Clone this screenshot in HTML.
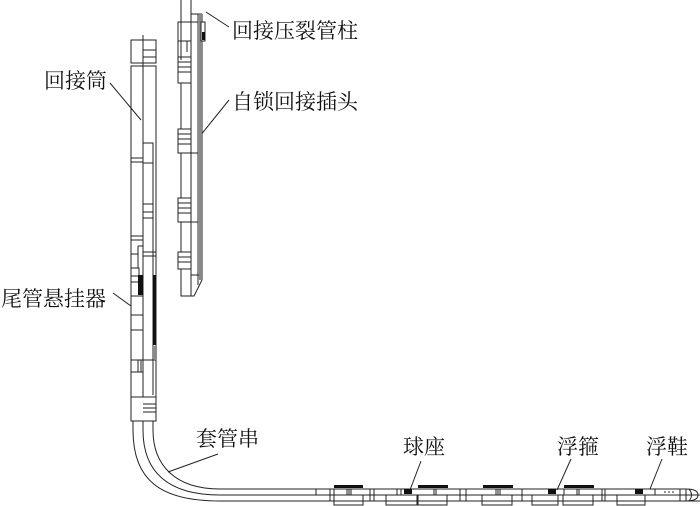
<!DOCTYPE html>
<html><head><meta charset="utf-8"><style>
html,body{margin:0;padding:0;background:#fff}
svg{display:block}
text{font-family:"Liberation Serif","Noto Serif CJK SC","Noto Sans CJK SC",serif;font-size:21px;fill:#111}
</style></head><body>
<svg width="700" height="506" viewBox="0 0 700 506" xmlns="http://www.w3.org/2000/svg">
<g fill="none" stroke="#222" stroke-width="1">
<rect x="131" y="40" width="25" height="23"/>
<line x1="143" y1="35" x2="143" y2="397"/>
<line x1="143" y1="50" x2="156" y2="50"/><line x1="143" y1="57" x2="156" y2="57"/>
<rect x="131" y="66" width="25" height="331"/>
<line x1="131" y1="158" x2="143" y2="158"/><line x1="131" y1="162" x2="143" y2="162"/>
<rect x="143" y="143" width="10" height="20"/>
<line x1="153" y1="143" x2="153" y2="395"/>
<line x1="143" y1="204" x2="153" y2="204"/><line x1="143" y1="212" x2="153" y2="212"/><line x1="143" y1="218" x2="153" y2="218"/>
<line x1="131" y1="236" x2="143" y2="236"/><line x1="131" y1="240" x2="143" y2="240"/>
<rect x="131" y="254" width="7" height="14"/><rect x="131" y="268" width="8" height="8"/>
<line x1="138" y1="254" x2="138" y2="246"/><line x1="138" y1="246" x2="143" y2="246"/>
<line x1="143" y1="252" x2="156" y2="252"/><line x1="143" y1="256" x2="156" y2="256"/>
<line x1="131" y1="282" x2="143" y2="282"/><line x1="131" y1="296" x2="143" y2="296"/>
<line x1="131" y1="315" x2="143" y2="315"/><line x1="131" y1="330" x2="143" y2="330"/>
<line x1="131" y1="360" x2="156" y2="360"/>
<line x1="138" y1="360" x2="138" y2="372"/><line x1="141" y1="360" x2="141" y2="372"/>
<line x1="131" y1="372" x2="143" y2="372"/>
<rect x="131" y="397" width="25" height="24"/>
<line x1="143" y1="404" x2="156" y2="404"/><line x1="143" y1="408" x2="156" y2="408"/><line x1="143" y1="412" x2="156" y2="412"/>
<path d="M133 421 L133 430 C133 480 160 501 220 501 L700 501"/>
<path d="M143 421 L143 430 C143 472 168 495 220 495 L330 495"/>
<path d="M153 421 L153 430 C153 465 175 489 220 489 L686 489"/>
<line x1="181" y1="0" x2="181" y2="60"/>
<line x1="191" y1="0" x2="191" y2="285"/>
<line x1="198" y1="14" x2="198" y2="285"/>
<line x1="202" y1="14" x2="202" y2="280"/>
<line x1="191" y1="14" x2="202" y2="14"/>
<line x1="191" y1="22" x2="198" y2="22"/>
<rect x="178" y="22" width="13" height="19"/>
<rect x="178" y="41" width="13" height="42"/>
<line x1="181" y1="41" x2="181" y2="52"/><line x1="187" y1="41" x2="187" y2="52"/>
<line x1="178" y1="57" x2="191" y2="57"/><line x1="178" y1="62" x2="191" y2="62"/><line x1="178" y1="67" x2="191" y2="67"/><line x1="178" y1="72" x2="191" y2="72"/>
<rect x="181" y="83" width="10" height="46"/>
<rect x="178" y="129" width="13" height="24"/>
<line x1="178" y1="134" x2="191" y2="134"/><line x1="178" y1="139" x2="191" y2="139"/><line x1="178" y1="144" x2="191" y2="144"/>
<line x1="191" y1="153" x2="198" y2="153"/>
<rect x="181" y="153" width="10" height="45"/>
<rect x="178" y="198" width="13" height="24"/>
<line x1="178" y1="203" x2="191" y2="203"/><line x1="178" y1="208" x2="191" y2="208"/><line x1="178" y1="213" x2="191" y2="213"/>
<line x1="191" y1="222" x2="198" y2="222"/>
<rect x="181" y="222" width="10" height="30"/>
<rect x="178" y="252" width="13" height="17"/>
<line x1="178" y1="257" x2="191" y2="257"/><line x1="178" y1="262" x2="191" y2="262"/>
<rect x="181" y="269" width="10" height="27"/>
<line x1="191" y1="275" x2="202" y2="275"/>
<path d="M191 296 L194 296 L202 280"/>
<rect x="316" y="489" width="18" height="6"/>
<line x1="330" y1="489" x2="330" y2="501"/>
<rect x="334" y="495" width="29" height="10"/>
<line x1="370" y1="489" x2="370" y2="501"/>
<line x1="374" y1="489" x2="374" y2="501"/>
<rect x="386" y="495" width="31" height="10"/>
<rect x="418" y="495" width="29" height="10"/>
<line x1="460" y1="489" x2="460" y2="501"/>
<line x1="466" y1="489" x2="466" y2="501"/>
<rect x="482" y="495" width="30" height="10"/>
<line x1="522" y1="489" x2="522" y2="501"/>
<rect x="532" y="495" width="26" height="10"/>
<rect x="563" y="495" width="30" height="10"/>
<line x1="602" y1="489" x2="602" y2="501"/>
<line x1="605" y1="489" x2="605" y2="501"/>
<rect x="617" y="495" width="28" height="10"/>
<line x1="655" y1="489" x2="655" y2="495"/>
<line x1="680" y1="489" x2="680" y2="501"/>
<line x1="686" y1="489" x2="686" y2="501"/>
<path d="M686 489 Q698 489 698 495 Q698 501 686 501"/>
<path d="M689 489 Q694 495 689 501"/>
<line x1="330" y1="495" x2="700" y2="495"/>
<line x1="347" y1="489" x2="347" y2="495"/><line x1="349" y1="489" x2="349" y2="495"/><line x1="351" y1="489" x2="351" y2="495"/>
<line x1="434" y1="489" x2="434" y2="495"/><line x1="436" y1="489" x2="436" y2="495"/>
<line x1="496" y1="489" x2="496" y2="495"/><line x1="498" y1="489" x2="498" y2="495"/><line x1="500" y1="489" x2="500" y2="495"/>
<line x1="577" y1="489" x2="577" y2="495"/><line x1="579" y1="489" x2="579" y2="495"/>
<line x1="397" y1="489" x2="397" y2="495"/><line x1="401" y1="489" x2="401" y2="495"/>
<line x1="564" y1="489" x2="564" y2="495"/>
<line x1="206" y1="12" x2="229" y2="27"/>
<line x1="200" y1="136" x2="229" y2="100"/>
<line x1="110" y1="83" x2="141" y2="120"/>
<line x1="113" y1="293" x2="131" y2="306"/>
<line x1="168" y1="472" x2="218" y2="454"/>
<line x1="421" y1="461" x2="410" y2="490"/>
<line x1="571" y1="459" x2="557" y2="490"/>
<line x1="662" y1="459" x2="650" y2="489"/>
</g>
<g fill="#111" stroke="none">
<rect x="199" y="14" width="3" height="266" fill="#888"/>
<rect x="201" y="22" width="4" height="19" fill="#fff" stroke="#222" stroke-width="1"/>
<rect x="202" y="32" width="3" height="8"/>
<rect x="138" y="275" width="5" height="20"/>
<rect x="153" y="275" width="3" height="70"/>
<rect x="154" y="346" width="2" height="14" fill="#888"/>
<rect x="334" y="485" width="29" height="3"/>
<rect x="418" y="485" width="30" height="3"/>
<rect x="483" y="485" width="30" height="3"/>
<rect x="564" y="485" width="30" height="3"/>
<rect x="404" y="489" width="8" height="5"/>
<rect x="548" y="489" width="8" height="5"/>
<rect x="635" y="489" width="8" height="5"/>
<circle cx="665" cy="492" r="0.8"/><circle cx="669" cy="492" r="0.8"/><circle cx="673" cy="492" r="0.8"/>
</g>
<text x="232" y="38">回接压裂管柱</text>
<text x="232" y="109">自锁回接插头</text>
<text x="44" y="88">回接筒</text>
<text x="1" y="306">尾管悬挂器</text>
<text x="196" y="446">套管串</text>
<text x="403" y="454">球座</text>
<text x="557" y="454">浮箍</text>
<text x="646" y="454">浮鞋</text>
</svg>
</body></html>
